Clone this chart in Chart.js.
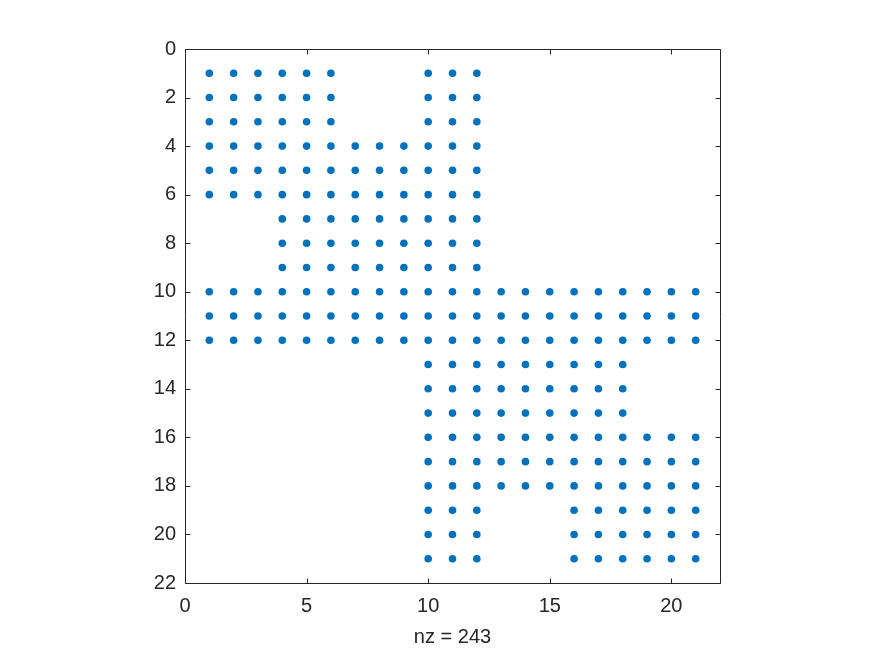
<!DOCTYPE html>
<html>
<head>
<meta charset="utf-8">
<script src="https://cdn.jsdelivr.net/npm/chart.js@4"></script>
<style>
  html, body { margin: 0; padding: 0; background: #ffffff; }
  canvas { display: block; }
</style>
</head>
<body>
<canvas id="c" width="875" height="656"></canvas>
<script>
// Column indices of the nonzeros in each row (rows 1..21)
const rowIndices = [1,2,3,4,5,6,7,8,9,10,11,12,13,14,15,16,17,18,19,20,21];
const rowColumns = [
  [1,2,3,4,5,6,10,11,12],
  [1,2,3,4,5,6,10,11,12],
  [1,2,3,4,5,6,10,11,12],
  [1,2,3,4,5,6,7,8,9,10,11,12],
  [1,2,3,4,5,6,7,8,9,10,11,12],
  [1,2,3,4,5,6,7,8,9,10,11,12],
  [4,5,6,7,8,9,10,11,12],
  [4,5,6,7,8,9,10,11,12],
  [4,5,6,7,8,9,10,11,12],
  [1,2,3,4,5,6,7,8,9,10,11,12,13,14,15,16,17,18,19,20,21],
  [1,2,3,4,5,6,7,8,9,10,11,12,13,14,15,16,17,18,19,20,21],
  [1,2,3,4,5,6,7,8,9,10,11,12,13,14,15,16,17,18,19,20,21],
  [10,11,12,13,14,15,16,17,18],
  [10,11,12,13,14,15,16,17,18],
  [10,11,12,13,14,15,16,17,18],
  [10,11,12,13,14,15,16,17,18,19,20,21],
  [10,11,12,13,14,15,16,17,18,19,20,21],
  [10,11,12,13,14,15,16,17,18,19,20,21],
  [10,11,12,16,17,18,19,20,21],
  [10,11,12,16,17,18,19,20,21],
  [10,11,12,16,17,18,19,20,21]
];
const xTicks = [0,5,10,15,20];
const yTicks = [0,2,4,6,8,10,12,14,16,18,20,22];
const xLabel = 'nz = 243';

const points = [];
rowIndices.forEach((r, i) => {
  rowColumns[i].forEach(c => points.push({x: c, y: r}));
});

const AXIS = '#262626';
const FONT = "'Liberation Sans', Arial, Helvetica, sans-serif";
const FS = 20;

const boxPlugin = {
  id: 'matlabBox',
  afterDraw(chart) {
    const ctx = chart.ctx;
    const a = chart.chartArea;
    const xs = chart.scales.x, ys = chart.scales.y;
    const L = Math.round(a.left) + 0.5, R = Math.round(a.right) + 0.5;
    const T = Math.round(a.top) + 0.5, B = Math.round(a.bottom) + 0.5;
    ctx.save();
    ctx.strokeStyle = AXIS;
    ctx.lineWidth = 1;
    ctx.beginPath();
    ctx.rect(L, T, R - L, B - T);
    const tl = 5;
    xTicks.forEach(v => {
      const px = Math.round(xs.getPixelForValue(v)) + 0.5;
      ctx.moveTo(px, B); ctx.lineTo(px, B - tl);
      ctx.moveTo(px, T); ctx.lineTo(px, T + tl);
    });
    yTicks.forEach(v => {
      const py = Math.round(ys.getPixelForValue(v)) + 0.5;
      ctx.moveTo(L, py); ctx.lineTo(L + tl, py);
      ctx.moveTo(R, py); ctx.lineTo(R - tl, py);
    });
    ctx.stroke();
    ctx.restore();
  }
};

new Chart(document.getElementById('c'), {
  type: 'scatter',
  data: {
    datasets: [{
      data: points,
      backgroundColor: '#0072BD',
      borderWidth: 0,
      pointRadius: 3.8,
      pointHoverRadius: 3.8
    }]
  },
  options: {
    responsive: false,
    animation: false,
    devicePixelRatio: 1,
    layout: { padding: { top: 49, right: 155, left: 0, bottom: 0 } },
    plugins: { legend: { display: false }, tooltip: { enabled: false } },
    scales: {
      x: {
        type: 'linear',
        min: 0, max: 22,
        grid: { display: false, drawTicks: false },
        border: { display: false },
        afterBuildTicks: s => { s.ticks = xTicks.map(v => ({value: v})); },
        afterFit: s => { s.height = 73; },
        ticks: {
          color: AXIS,
          font: { family: FONT, size: FS },
          padding: 11,
          maxRotation: 0,
          autoSkip: false
        },
        title: {
          display: true,
          text: xLabel,
          color: AXIS,
          font: { family: FONT, size: FS },
          padding: { top: 0, bottom: 7 }
        }
      },
      y: {
        type: 'linear',
        reverse: true,
        min: 0, max: 22,
        grid: { display: false, drawTicks: false },
        border: { display: false },
        afterBuildTicks: s => { s.ticks = yTicks.map(v => ({value: v})); },
        afterFit: s => { s.width = 185; },
        ticks: {
          color: AXIS,
          font: { family: FONT, size: FS },
          padding: 9,
          autoSkip: false
        }
      }
    }
  },
  plugins: [boxPlugin]
});
</script>
</body>
</html>
